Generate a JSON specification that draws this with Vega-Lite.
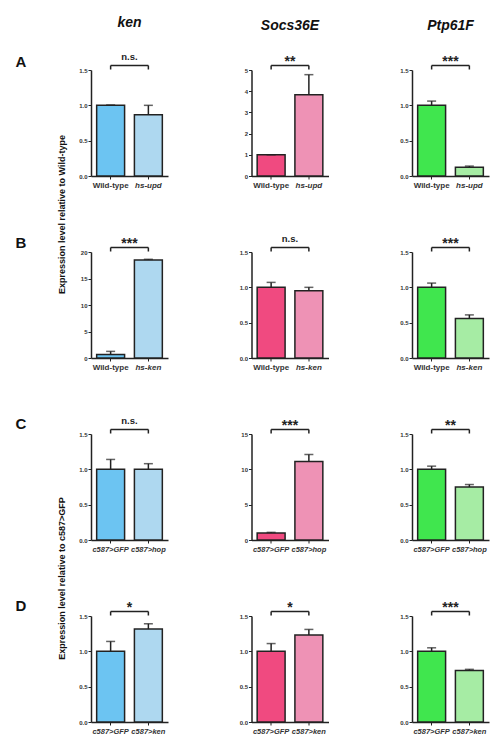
{
"$schema":"https://vega.github.io/schema/vega-lite/v6.json",
"padding":{"left":15,"top":16,"right":5,"bottom":5},
"columns":3,
"spacing":{"row":76,"column":83.5},
"bounds":"flush",
"resolve":{"scale":{"color":"independent"}},
"config":{
 "font":"Liberation Sans",
 "view":{"stroke":null},
 "axis":{"domainColor":"#222","domainWidth":1.5,"tickColor":"#222","tickWidth":1,"labelColor":"#333","labelFont":"Liberation Sans","labelFontWeight":"bold","grid":false,"titleFont":"Liberation Sans","titleColor":"#111","labelOverlap":false},
 "axisX":{"labelAngle":0,"labelFontSize":8,"tickSize":3,"labelPadding":2},
 "axisY":{"labelFontSize":6,"tickSize":3,"labelPadding":1,"labelOverlap":false,"labelFlush":false}
},
"concat":[
{"width":77,"height":106,
 "title":{"text":"ken","fontSize":14,"fontWeight":"bold","fontStyle":"italic","font":"Liberation Sans","anchor":"middle","frame":"group","baseline":"alphabetic","offset":11,"color":"#111"},
 "data":{"values":[{"group":"Wild-type","kind":"control","value":1.0,"upper":1.005,"sig":"n.s."},{"group":"hs-upd","kind":"test","value":0.865,"upper":1.0,"sig":"n.s."}]},
 "layer":[
  {"mark":{"type":"bar","stroke":"#222","strokeWidth":1.5},
   "encoding":{
    "x":{"field":"group","type":"nominal","sort":null,"scale":{"paddingInner":0.26,"paddingOuter":0.15},"axis":{"title":"A","titleX":-76,"titleY":-110,"titleAngle":0,"titleAlign":"left","titleBaseline":"alphabetic","titleFontSize":15,"titleFontWeight":"bold","labelFontStyle":{"condition":{"test":"datum.label == 'Wild-type'","value":"normal"},"value":"italic"}}},
    "y":{"field":"value","type":"quantitative","scale":{"domain":[0,1.5],"nice":false},"axis":{"values":[0,0.5,1,1.5],"format":".1f","labelOverlap":false,"title":"Expression level relative to Wild-type","titleX":-30,"titleY":144,"titleAngle":270,"titleAlign":"center","titleBaseline":"middle","titleFontSize":9,"titleFontWeight":"bold"}},
    "color":{"field":"kind","type":"nominal","scale":{"domain":["control","test"],"range":["#6cc4f2","#aed8f0"]},"legend":null}}},
  {"mark":{"type":"rule","color":"#222","strokeWidth":1.5},"encoding":{"x":{"field":"group","type":"nominal","sort":null},"y":{"field":"value","type":"quantitative","axis":{"values":[0,0.5,1,1.5],"format":".1f","labelOverlap":false,"title":"Expression level relative to Wild-type","titleX":-30,"titleY":144,"titleAngle":270,"titleAlign":"center","titleBaseline":"middle","titleFontSize":9,"titleFontWeight":"bold"}},"y2":{"field":"upper"}}},
  {"mark":{"type":"tick","orient":"horizontal","color":"#222","size":9,"thickness":1.5},"encoding":{"x":{"field":"group","type":"nominal","sort":null},"y":{"field":"upper","type":"quantitative","axis":{"values":[0,0.5,1,1.5],"format":".1f","labelOverlap":false,"title":"Expression level relative to Wild-type","titleX":-30,"titleY":144,"titleAngle":270,"titleAlign":"center","titleBaseline":"middle","titleFontSize":9,"titleFontWeight":"bold"}}}},
  {"mark":{"type":"line","color":"#222","strokeWidth":1.5,"yOffset":-4.5},"encoding":{"x":{"field":"group","type":"nominal","sort":null},"y":{"datum":1.5,"type":"quantitative","axis":{"values":[0,0.5,1,1.5],"format":".1f","labelOverlap":false,"title":"Expression level relative to Wild-type","titleX":-30,"titleY":144,"titleAngle":270,"titleAlign":"center","titleBaseline":"middle","titleFontSize":9,"titleFontWeight":"bold"}}}},
  {"mark":{"type":"rule","color":"#222","strokeWidth":1.5,"yOffset":-4.5,"y2Offset":-0.5},"encoding":{"x":{"field":"group","type":"nominal","sort":null},"y":{"datum":1.5,"type":"quantitative","axis":{"values":[0,0.5,1,1.5],"format":".1f","labelOverlap":false,"title":"Expression level relative to Wild-type","titleX":-30,"titleY":144,"titleAngle":270,"titleAlign":"center","titleBaseline":"middle","titleFontSize":9,"titleFontWeight":"bold"}},"y2":{"datum":1.5}}},
  {"transform":[{"filter":"datum.kind == 'control'"}],"mark":{"type":"text","font":"Liberation Sans","fontSize":9.5,"fontWeight":"bold","color":"#222","baseline":"alphabetic","dy":-10},"encoding":{"text":{"field":"sig"},"y":{"datum":1.5,"type":"quantitative","axis":{"values":[0,0.5,1,1.5],"format":".1f","labelOverlap":false,"title":"Expression level relative to Wild-type","titleX":-30,"titleY":144,"titleAngle":270,"titleAlign":"center","titleBaseline":"middle","titleFontSize":9,"titleFontWeight":"bold"}}}}
 ]},
{"width":77,"height":106,
 "title":{"text":"Socs36E","fontSize":14,"fontWeight":"bold","fontStyle":"italic","font":"Liberation Sans","anchor":"middle","frame":"group","baseline":"alphabetic","offset":11,"color":"#111"},
 "data":{"values":[{"group":"Wild-type","kind":"control","value":1.0,"upper":1.0,"sig":"**"},{"group":"hs-upd","kind":"test","value":3.83,"upper":4.78,"sig":"**"}]},
 "layer":[
  {"mark":{"type":"bar","stroke":"#222","strokeWidth":1.5},
   "encoding":{
    "x":{"field":"group","type":"nominal","sort":null,"scale":{"paddingInner":0.26,"paddingOuter":0.15},"axis":{"title":null,"labelFontStyle":{"condition":{"test":"datum.label == 'Wild-type'","value":"normal"},"value":"italic"}}},
    "y":{"field":"value","type":"quantitative","scale":{"domain":[0,5],"nice":false},"axis":{"values":[0,1,2,3,4,5],"format":"d","labelOverlap":false,"title":null}},
    "color":{"field":"kind","type":"nominal","scale":{"domain":["control","test"],"range":["#f04a80","#ee92b5"]},"legend":null}}},
  {"mark":{"type":"rule","color":"#222","strokeWidth":1.5},"encoding":{"x":{"field":"group","type":"nominal","sort":null},"y":{"field":"value","type":"quantitative","axis":{"values":[0,1,2,3,4,5],"format":"d","labelOverlap":false,"title":null}},"y2":{"field":"upper"}}},
  {"mark":{"type":"tick","orient":"horizontal","color":"#222","size":9,"thickness":1.5},"encoding":{"x":{"field":"group","type":"nominal","sort":null},"y":{"field":"upper","type":"quantitative","axis":{"values":[0,1,2,3,4,5],"format":"d","labelOverlap":false,"title":null}}}},
  {"mark":{"type":"line","color":"#222","strokeWidth":1.5,"yOffset":-4.5},"encoding":{"x":{"field":"group","type":"nominal","sort":null},"y":{"datum":5,"type":"quantitative","axis":{"values":[0,1,2,3,4,5],"format":"d","labelOverlap":false,"title":null}}}},
  {"mark":{"type":"rule","color":"#222","strokeWidth":1.5,"yOffset":-4.5,"y2Offset":-0.5},"encoding":{"x":{"field":"group","type":"nominal","sort":null},"y":{"datum":5,"type":"quantitative","axis":{"values":[0,1,2,3,4,5],"format":"d","labelOverlap":false,"title":null}},"y2":{"datum":5}}},
  {"transform":[{"filter":"datum.kind == 'control'"}],"mark":{"type":"text","font":"Liberation Sans","fontSize":14,"fontWeight":"bold","color":"#222","baseline":"alphabetic","dy":-4},"encoding":{"text":{"field":"sig"},"y":{"datum":5,"type":"quantitative","axis":{"values":[0,1,2,3,4,5],"format":"d","labelOverlap":false,"title":null}}}}
 ]},
{"width":77,"height":106,
 "title":{"text":"Ptp61F","fontSize":14,"fontWeight":"bold","fontStyle":"italic","font":"Liberation Sans","anchor":"middle","frame":"group","baseline":"alphabetic","offset":11,"color":"#111"},
 "data":{"values":[{"group":"Wild-type","kind":"control","value":1.0,"upper":1.06,"sig":"***"},{"group":"hs-upd","kind":"test","value":0.125,"upper":0.14,"sig":"***"}]},
 "layer":[
  {"mark":{"type":"bar","stroke":"#222","strokeWidth":1.5},
   "encoding":{
    "x":{"field":"group","type":"nominal","sort":null,"scale":{"paddingInner":0.26,"paddingOuter":0.15},"axis":{"title":null,"labelFontStyle":{"condition":{"test":"datum.label == 'Wild-type'","value":"normal"},"value":"italic"}}},
    "y":{"field":"value","type":"quantitative","scale":{"domain":[0,1.5],"nice":false},"axis":{"values":[0,0.5,1,1.5],"format":".1f","labelOverlap":false,"title":null}},
    "color":{"field":"kind","type":"nominal","scale":{"domain":["control","test"],"range":["#40e64e","#a6eca4"]},"legend":null}}},
  {"mark":{"type":"rule","color":"#222","strokeWidth":1.5},"encoding":{"x":{"field":"group","type":"nominal","sort":null},"y":{"field":"value","type":"quantitative","axis":{"values":[0,0.5,1,1.5],"format":".1f","labelOverlap":false,"title":null}},"y2":{"field":"upper"}}},
  {"mark":{"type":"tick","orient":"horizontal","color":"#222","size":9,"thickness":1.5},"encoding":{"x":{"field":"group","type":"nominal","sort":null},"y":{"field":"upper","type":"quantitative","axis":{"values":[0,0.5,1,1.5],"format":".1f","labelOverlap":false,"title":null}}}},
  {"mark":{"type":"line","color":"#222","strokeWidth":1.5,"yOffset":-4.5},"encoding":{"x":{"field":"group","type":"nominal","sort":null},"y":{"datum":1.5,"type":"quantitative","axis":{"values":[0,0.5,1,1.5],"format":".1f","labelOverlap":false,"title":null}}}},
  {"mark":{"type":"rule","color":"#222","strokeWidth":1.5,"yOffset":-4.5,"y2Offset":-0.5},"encoding":{"x":{"field":"group","type":"nominal","sort":null},"y":{"datum":1.5,"type":"quantitative","axis":{"values":[0,0.5,1,1.5],"format":".1f","labelOverlap":false,"title":null}},"y2":{"datum":1.5}}},
  {"transform":[{"filter":"datum.kind == 'control'"}],"mark":{"type":"text","font":"Liberation Sans","fontSize":14,"fontWeight":"bold","color":"#222","baseline":"alphabetic","dy":-4},"encoding":{"text":{"field":"sig"},"y":{"datum":1.5,"type":"quantitative","axis":{"values":[0,0.5,1,1.5],"format":".1f","labelOverlap":false,"title":null}}}}
 ]},
{"width":77,"height":106,
 "data":{"values":[{"group":"Wild-type","kind":"control","value":0.65,"upper":1.25,"sig":"***"},{"group":"hs-ken","kind":"test","value":18.5,"upper":18.62,"sig":"***"}]},
 "layer":[
  {"mark":{"type":"bar","stroke":"#222","strokeWidth":1.5},
   "encoding":{
    "x":{"field":"group","type":"nominal","sort":null,"scale":{"paddingInner":0.26,"paddingOuter":0.15},"axis":{"title":"B","titleX":-76,"titleY":-111,"titleAngle":0,"titleAlign":"left","titleBaseline":"alphabetic","titleFontSize":15,"titleFontWeight":"bold","labelFontStyle":{"condition":{"test":"datum.label == 'Wild-type'","value":"normal"},"value":"italic"}}},
    "y":{"field":"value","type":"quantitative","scale":{"domain":[0,20],"nice":false},"axis":{"values":[0,5,10,15,20],"format":"d","labelOverlap":false,"title":null}},
    "color":{"field":"kind","type":"nominal","scale":{"domain":["control","test"],"range":["#6cc4f2","#aed8f0"]},"legend":null}}},
  {"mark":{"type":"rule","color":"#222","strokeWidth":1.5},"encoding":{"x":{"field":"group","type":"nominal","sort":null},"y":{"field":"value","type":"quantitative","axis":{"values":[0,5,10,15,20],"format":"d","labelOverlap":false,"title":null}},"y2":{"field":"upper"}}},
  {"mark":{"type":"tick","orient":"horizontal","color":"#222","size":9,"thickness":1.5},"encoding":{"x":{"field":"group","type":"nominal","sort":null},"y":{"field":"upper","type":"quantitative","axis":{"values":[0,5,10,15,20],"format":"d","labelOverlap":false,"title":null}}}},
  {"mark":{"type":"line","color":"#222","strokeWidth":1.5,"yOffset":-4.5},"encoding":{"x":{"field":"group","type":"nominal","sort":null},"y":{"datum":20,"type":"quantitative","axis":{"values":[0,5,10,15,20],"format":"d","labelOverlap":false,"title":null}}}},
  {"mark":{"type":"rule","color":"#222","strokeWidth":1.5,"yOffset":-4.5,"y2Offset":-0.5},"encoding":{"x":{"field":"group","type":"nominal","sort":null},"y":{"datum":20,"type":"quantitative","axis":{"values":[0,5,10,15,20],"format":"d","labelOverlap":false,"title":null}},"y2":{"datum":20}}},
  {"transform":[{"filter":"datum.kind == 'control'"}],"mark":{"type":"text","font":"Liberation Sans","fontSize":14,"fontWeight":"bold","color":"#222","baseline":"alphabetic","dy":-4},"encoding":{"text":{"field":"sig"},"y":{"datum":20,"type":"quantitative","axis":{"values":[0,5,10,15,20],"format":"d","labelOverlap":false,"title":null}}}}
 ]},
{"width":77,"height":106,
 "data":{"values":[{"group":"Wild-type","kind":"control","value":1.0,"upper":1.07,"sig":"n.s."},{"group":"hs-ken","kind":"test","value":0.95,"upper":1.0,"sig":"n.s."}]},
 "layer":[
  {"mark":{"type":"bar","stroke":"#222","strokeWidth":1.5},
   "encoding":{
    "x":{"field":"group","type":"nominal","sort":null,"scale":{"paddingInner":0.26,"paddingOuter":0.15},"axis":{"title":null,"labelFontStyle":{"condition":{"test":"datum.label == 'Wild-type'","value":"normal"},"value":"italic"}}},
    "y":{"field":"value","type":"quantitative","scale":{"domain":[0,1.5],"nice":false},"axis":{"values":[0,0.5,1,1.5],"format":".1f","labelOverlap":false,"title":null}},
    "color":{"field":"kind","type":"nominal","scale":{"domain":["control","test"],"range":["#f04a80","#ee92b5"]},"legend":null}}},
  {"mark":{"type":"rule","color":"#222","strokeWidth":1.5},"encoding":{"x":{"field":"group","type":"nominal","sort":null},"y":{"field":"value","type":"quantitative","axis":{"values":[0,0.5,1,1.5],"format":".1f","labelOverlap":false,"title":null}},"y2":{"field":"upper"}}},
  {"mark":{"type":"tick","orient":"horizontal","color":"#222","size":9,"thickness":1.5},"encoding":{"x":{"field":"group","type":"nominal","sort":null},"y":{"field":"upper","type":"quantitative","axis":{"values":[0,0.5,1,1.5],"format":".1f","labelOverlap":false,"title":null}}}},
  {"mark":{"type":"line","color":"#222","strokeWidth":1.5,"yOffset":-4.5},"encoding":{"x":{"field":"group","type":"nominal","sort":null},"y":{"datum":1.5,"type":"quantitative","axis":{"values":[0,0.5,1,1.5],"format":".1f","labelOverlap":false,"title":null}}}},
  {"mark":{"type":"rule","color":"#222","strokeWidth":1.5,"yOffset":-4.5,"y2Offset":-0.5},"encoding":{"x":{"field":"group","type":"nominal","sort":null},"y":{"datum":1.5,"type":"quantitative","axis":{"values":[0,0.5,1,1.5],"format":".1f","labelOverlap":false,"title":null}},"y2":{"datum":1.5}}},
  {"transform":[{"filter":"datum.kind == 'control'"}],"mark":{"type":"text","font":"Liberation Sans","fontSize":9.5,"fontWeight":"bold","color":"#222","baseline":"alphabetic","dy":-10},"encoding":{"text":{"field":"sig"},"y":{"datum":1.5,"type":"quantitative","axis":{"values":[0,0.5,1,1.5],"format":".1f","labelOverlap":false,"title":null}}}}
 ]},
{"width":77,"height":106,
 "data":{"values":[{"group":"Wild-type","kind":"control","value":1.0,"upper":1.06,"sig":"***"},{"group":"hs-ken","kind":"test","value":0.56,"upper":0.61,"sig":"***"}]},
 "layer":[
  {"mark":{"type":"bar","stroke":"#222","strokeWidth":1.5},
   "encoding":{
    "x":{"field":"group","type":"nominal","sort":null,"scale":{"paddingInner":0.26,"paddingOuter":0.15},"axis":{"title":null,"labelFontStyle":{"condition":{"test":"datum.label == 'Wild-type'","value":"normal"},"value":"italic"}}},
    "y":{"field":"value","type":"quantitative","scale":{"domain":[0,1.5],"nice":false},"axis":{"values":[0,0.5,1,1.5],"format":".1f","labelOverlap":false,"title":null}},
    "color":{"field":"kind","type":"nominal","scale":{"domain":["control","test"],"range":["#40e64e","#a6eca4"]},"legend":null}}},
  {"mark":{"type":"rule","color":"#222","strokeWidth":1.5},"encoding":{"x":{"field":"group","type":"nominal","sort":null},"y":{"field":"value","type":"quantitative","axis":{"values":[0,0.5,1,1.5],"format":".1f","labelOverlap":false,"title":null}},"y2":{"field":"upper"}}},
  {"mark":{"type":"tick","orient":"horizontal","color":"#222","size":9,"thickness":1.5},"encoding":{"x":{"field":"group","type":"nominal","sort":null},"y":{"field":"upper","type":"quantitative","axis":{"values":[0,0.5,1,1.5],"format":".1f","labelOverlap":false,"title":null}}}},
  {"mark":{"type":"line","color":"#222","strokeWidth":1.5,"yOffset":-4.5},"encoding":{"x":{"field":"group","type":"nominal","sort":null},"y":{"datum":1.5,"type":"quantitative","axis":{"values":[0,0.5,1,1.5],"format":".1f","labelOverlap":false,"title":null}}}},
  {"mark":{"type":"rule","color":"#222","strokeWidth":1.5,"yOffset":-4.5,"y2Offset":-0.5},"encoding":{"x":{"field":"group","type":"nominal","sort":null},"y":{"datum":1.5,"type":"quantitative","axis":{"values":[0,0.5,1,1.5],"format":".1f","labelOverlap":false,"title":null}},"y2":{"datum":1.5}}},
  {"transform":[{"filter":"datum.kind == 'control'"}],"mark":{"type":"text","font":"Liberation Sans","fontSize":14,"fontWeight":"bold","color":"#222","baseline":"alphabetic","dy":-4},"encoding":{"text":{"field":"sig"},"y":{"datum":1.5,"type":"quantitative","axis":{"values":[0,0.5,1,1.5],"format":".1f","labelOverlap":false,"title":null}}}}
 ]},
{"width":77,"height":106,
 "data":{"values":[{"group":"c587>GFP","kind":"control","value":1.0,"upper":1.14,"sig":"n.s."},{"group":"c587>hop","kind":"test","value":1.0,"upper":1.08,"sig":"n.s."}]},
 "layer":[
  {"mark":{"type":"bar","stroke":"#222","strokeWidth":1.5},
   "encoding":{
    "x":{"field":"group","type":"nominal","sort":null,"scale":{"paddingInner":0.26,"paddingOuter":0.15},"axis":{"title":"C","titleX":-76,"titleY":-112,"titleAngle":0,"titleAlign":"left","titleBaseline":"alphabetic","titleFontSize":15,"titleFontWeight":"bold","labelFontStyle":"italic","labelFontSize":7.5}},
    "y":{"field":"value","type":"quantitative","scale":{"domain":[0,1.5],"nice":false},"axis":{"values":[0,0.5,1,1.5],"format":".1f","labelOverlap":false,"title":"Expression level relative to c587>GFP","titleX":-30,"titleY":144,"titleAngle":270,"titleAlign":"center","titleBaseline":"middle","titleFontSize":9,"titleFontWeight":"bold"}},
    "color":{"field":"kind","type":"nominal","scale":{"domain":["control","test"],"range":["#6cc4f2","#aed8f0"]},"legend":null}}},
  {"mark":{"type":"rule","color":"#222","strokeWidth":1.5},"encoding":{"x":{"field":"group","type":"nominal","sort":null},"y":{"field":"value","type":"quantitative","axis":{"values":[0,0.5,1,1.5],"format":".1f","labelOverlap":false,"title":"Expression level relative to c587>GFP","titleX":-30,"titleY":144,"titleAngle":270,"titleAlign":"center","titleBaseline":"middle","titleFontSize":9,"titleFontWeight":"bold"}},"y2":{"field":"upper"}}},
  {"mark":{"type":"tick","orient":"horizontal","color":"#222","size":9,"thickness":1.5},"encoding":{"x":{"field":"group","type":"nominal","sort":null},"y":{"field":"upper","type":"quantitative","axis":{"values":[0,0.5,1,1.5],"format":".1f","labelOverlap":false,"title":"Expression level relative to c587>GFP","titleX":-30,"titleY":144,"titleAngle":270,"titleAlign":"center","titleBaseline":"middle","titleFontSize":9,"titleFontWeight":"bold"}}}},
  {"mark":{"type":"line","color":"#222","strokeWidth":1.5,"yOffset":-4.5},"encoding":{"x":{"field":"group","type":"nominal","sort":null},"y":{"datum":1.5,"type":"quantitative","axis":{"values":[0,0.5,1,1.5],"format":".1f","labelOverlap":false,"title":"Expression level relative to c587>GFP","titleX":-30,"titleY":144,"titleAngle":270,"titleAlign":"center","titleBaseline":"middle","titleFontSize":9,"titleFontWeight":"bold"}}}},
  {"mark":{"type":"rule","color":"#222","strokeWidth":1.5,"yOffset":-4.5,"y2Offset":-0.5},"encoding":{"x":{"field":"group","type":"nominal","sort":null},"y":{"datum":1.5,"type":"quantitative","axis":{"values":[0,0.5,1,1.5],"format":".1f","labelOverlap":false,"title":"Expression level relative to c587>GFP","titleX":-30,"titleY":144,"titleAngle":270,"titleAlign":"center","titleBaseline":"middle","titleFontSize":9,"titleFontWeight":"bold"}},"y2":{"datum":1.5}}},
  {"transform":[{"filter":"datum.kind == 'control'"}],"mark":{"type":"text","font":"Liberation Sans","fontSize":9.5,"fontWeight":"bold","color":"#222","baseline":"alphabetic","dy":-10},"encoding":{"text":{"field":"sig"},"y":{"datum":1.5,"type":"quantitative","axis":{"values":[0,0.5,1,1.5],"format":".1f","labelOverlap":false,"title":"Expression level relative to c587>GFP","titleX":-30,"titleY":144,"titleAngle":270,"titleAlign":"center","titleBaseline":"middle","titleFontSize":9,"titleFontWeight":"bold"}}}}
 ]},
{"width":77,"height":106,
 "data":{"values":[{"group":"c587>GFP","kind":"control","value":1.0,"upper":1.08,"sig":"***"},{"group":"c587>hop","kind":"test","value":11.1,"upper":12.1,"sig":"***"}]},
 "layer":[
  {"mark":{"type":"bar","stroke":"#222","strokeWidth":1.5},
   "encoding":{
    "x":{"field":"group","type":"nominal","sort":null,"scale":{"paddingInner":0.26,"paddingOuter":0.15},"axis":{"title":null,"labelFontStyle":"italic","labelFontSize":7.5}},
    "y":{"field":"value","type":"quantitative","scale":{"domain":[0,15],"nice":false},"axis":{"values":[0,5,10,15],"format":"d","labelOverlap":false,"title":null}},
    "color":{"field":"kind","type":"nominal","scale":{"domain":["control","test"],"range":["#f04a80","#ee92b5"]},"legend":null}}},
  {"mark":{"type":"rule","color":"#222","strokeWidth":1.5},"encoding":{"x":{"field":"group","type":"nominal","sort":null},"y":{"field":"value","type":"quantitative","axis":{"values":[0,5,10,15],"format":"d","labelOverlap":false,"title":null}},"y2":{"field":"upper"}}},
  {"mark":{"type":"tick","orient":"horizontal","color":"#222","size":9,"thickness":1.5},"encoding":{"x":{"field":"group","type":"nominal","sort":null},"y":{"field":"upper","type":"quantitative","axis":{"values":[0,5,10,15],"format":"d","labelOverlap":false,"title":null}}}},
  {"mark":{"type":"line","color":"#222","strokeWidth":1.5,"yOffset":-4.5},"encoding":{"x":{"field":"group","type":"nominal","sort":null},"y":{"datum":15,"type":"quantitative","axis":{"values":[0,5,10,15],"format":"d","labelOverlap":false,"title":null}}}},
  {"mark":{"type":"rule","color":"#222","strokeWidth":1.5,"yOffset":-4.5,"y2Offset":-0.5},"encoding":{"x":{"field":"group","type":"nominal","sort":null},"y":{"datum":15,"type":"quantitative","axis":{"values":[0,5,10,15],"format":"d","labelOverlap":false,"title":null}},"y2":{"datum":15}}},
  {"transform":[{"filter":"datum.kind == 'control'"}],"mark":{"type":"text","font":"Liberation Sans","fontSize":14,"fontWeight":"bold","color":"#222","baseline":"alphabetic","dy":-4},"encoding":{"text":{"field":"sig"},"y":{"datum":15,"type":"quantitative","axis":{"values":[0,5,10,15],"format":"d","labelOverlap":false,"title":null}}}}
 ]},
{"width":77,"height":106,
 "data":{"values":[{"group":"c587>GFP","kind":"control","value":1.0,"upper":1.045,"sig":"**"},{"group":"c587>hop","kind":"test","value":0.75,"upper":0.785,"sig":"**"}]},
 "layer":[
  {"mark":{"type":"bar","stroke":"#222","strokeWidth":1.5},
   "encoding":{
    "x":{"field":"group","type":"nominal","sort":null,"scale":{"paddingInner":0.26,"paddingOuter":0.15},"axis":{"title":null,"labelFontStyle":"italic","labelFontSize":7.5}},
    "y":{"field":"value","type":"quantitative","scale":{"domain":[0,1.5],"nice":false},"axis":{"values":[0,0.5,1,1.5],"format":".1f","labelOverlap":false,"title":null}},
    "color":{"field":"kind","type":"nominal","scale":{"domain":["control","test"],"range":["#40e64e","#a6eca4"]},"legend":null}}},
  {"mark":{"type":"rule","color":"#222","strokeWidth":1.5},"encoding":{"x":{"field":"group","type":"nominal","sort":null},"y":{"field":"value","type":"quantitative","axis":{"values":[0,0.5,1,1.5],"format":".1f","labelOverlap":false,"title":null}},"y2":{"field":"upper"}}},
  {"mark":{"type":"tick","orient":"horizontal","color":"#222","size":9,"thickness":1.5},"encoding":{"x":{"field":"group","type":"nominal","sort":null},"y":{"field":"upper","type":"quantitative","axis":{"values":[0,0.5,1,1.5],"format":".1f","labelOverlap":false,"title":null}}}},
  {"mark":{"type":"line","color":"#222","strokeWidth":1.5,"yOffset":-4.5},"encoding":{"x":{"field":"group","type":"nominal","sort":null},"y":{"datum":1.5,"type":"quantitative","axis":{"values":[0,0.5,1,1.5],"format":".1f","labelOverlap":false,"title":null}}}},
  {"mark":{"type":"rule","color":"#222","strokeWidth":1.5,"yOffset":-4.5,"y2Offset":-0.5},"encoding":{"x":{"field":"group","type":"nominal","sort":null},"y":{"datum":1.5,"type":"quantitative","axis":{"values":[0,0.5,1,1.5],"format":".1f","labelOverlap":false,"title":null}},"y2":{"datum":1.5}}},
  {"transform":[{"filter":"datum.kind == 'control'"}],"mark":{"type":"text","font":"Liberation Sans","fontSize":14,"fontWeight":"bold","color":"#222","baseline":"alphabetic","dy":-4},"encoding":{"text":{"field":"sig"},"y":{"datum":1.5,"type":"quantitative","axis":{"values":[0,0.5,1,1.5],"format":".1f","labelOverlap":false,"title":null}}}}
 ]},
{"width":77,"height":106,
 "data":{"values":[{"group":"c587>GFP","kind":"control","value":1.0,"upper":1.14,"sig":"*"},{"group":"c587>ken","kind":"test","value":1.315,"upper":1.39,"sig":"*"}]},
 "layer":[
  {"mark":{"type":"bar","stroke":"#222","strokeWidth":1.5},
   "encoding":{
    "x":{"field":"group","type":"nominal","sort":null,"scale":{"paddingInner":0.26,"paddingOuter":0.15},"axis":{"title":"D","titleX":-76,"titleY":-112,"titleAngle":0,"titleAlign":"left","titleBaseline":"alphabetic","titleFontSize":15,"titleFontWeight":"bold","labelFontStyle":"italic","labelFontSize":7.5}},
    "y":{"field":"value","type":"quantitative","scale":{"domain":[0,1.5],"nice":false},"axis":{"values":[0,0.5,1,1.5],"format":".1f","labelOverlap":false,"title":null}},
    "color":{"field":"kind","type":"nominal","scale":{"domain":["control","test"],"range":["#6cc4f2","#aed8f0"]},"legend":null}}},
  {"mark":{"type":"rule","color":"#222","strokeWidth":1.5},"encoding":{"x":{"field":"group","type":"nominal","sort":null},"y":{"field":"value","type":"quantitative","axis":{"values":[0,0.5,1,1.5],"format":".1f","labelOverlap":false,"title":null}},"y2":{"field":"upper"}}},
  {"mark":{"type":"tick","orient":"horizontal","color":"#222","size":9,"thickness":1.5},"encoding":{"x":{"field":"group","type":"nominal","sort":null},"y":{"field":"upper","type":"quantitative","axis":{"values":[0,0.5,1,1.5],"format":".1f","labelOverlap":false,"title":null}}}},
  {"mark":{"type":"line","color":"#222","strokeWidth":1.5,"yOffset":-4.5},"encoding":{"x":{"field":"group","type":"nominal","sort":null},"y":{"datum":1.5,"type":"quantitative","axis":{"values":[0,0.5,1,1.5],"format":".1f","labelOverlap":false,"title":null}}}},
  {"mark":{"type":"rule","color":"#222","strokeWidth":1.5,"yOffset":-4.5,"y2Offset":-0.5},"encoding":{"x":{"field":"group","type":"nominal","sort":null},"y":{"datum":1.5,"type":"quantitative","axis":{"values":[0,0.5,1,1.5],"format":".1f","labelOverlap":false,"title":null}},"y2":{"datum":1.5}}},
  {"transform":[{"filter":"datum.kind == 'control'"}],"mark":{"type":"text","font":"Liberation Sans","fontSize":14,"fontWeight":"bold","color":"#222","baseline":"alphabetic","dy":-4},"encoding":{"text":{"field":"sig"},"y":{"datum":1.5,"type":"quantitative","axis":{"values":[0,0.5,1,1.5],"format":".1f","labelOverlap":false,"title":null}}}}
 ]},
{"width":77,"height":106,
 "data":{"values":[{"group":"c587>GFP","kind":"control","value":1.0,"upper":1.11,"sig":"*"},{"group":"c587>ken","kind":"test","value":1.23,"upper":1.31,"sig":"*"}]},
 "layer":[
  {"mark":{"type":"bar","stroke":"#222","strokeWidth":1.5},
   "encoding":{
    "x":{"field":"group","type":"nominal","sort":null,"scale":{"paddingInner":0.26,"paddingOuter":0.15},"axis":{"title":null,"labelFontStyle":"italic","labelFontSize":7.5}},
    "y":{"field":"value","type":"quantitative","scale":{"domain":[0,1.5],"nice":false},"axis":{"values":[0,0.5,1,1.5],"format":".1f","labelOverlap":false,"title":null}},
    "color":{"field":"kind","type":"nominal","scale":{"domain":["control","test"],"range":["#f04a80","#ee92b5"]},"legend":null}}},
  {"mark":{"type":"rule","color":"#222","strokeWidth":1.5},"encoding":{"x":{"field":"group","type":"nominal","sort":null},"y":{"field":"value","type":"quantitative","axis":{"values":[0,0.5,1,1.5],"format":".1f","labelOverlap":false,"title":null}},"y2":{"field":"upper"}}},
  {"mark":{"type":"tick","orient":"horizontal","color":"#222","size":9,"thickness":1.5},"encoding":{"x":{"field":"group","type":"nominal","sort":null},"y":{"field":"upper","type":"quantitative","axis":{"values":[0,0.5,1,1.5],"format":".1f","labelOverlap":false,"title":null}}}},
  {"mark":{"type":"line","color":"#222","strokeWidth":1.5,"yOffset":-4.5},"encoding":{"x":{"field":"group","type":"nominal","sort":null},"y":{"datum":1.5,"type":"quantitative","axis":{"values":[0,0.5,1,1.5],"format":".1f","labelOverlap":false,"title":null}}}},
  {"mark":{"type":"rule","color":"#222","strokeWidth":1.5,"yOffset":-4.5,"y2Offset":-0.5},"encoding":{"x":{"field":"group","type":"nominal","sort":null},"y":{"datum":1.5,"type":"quantitative","axis":{"values":[0,0.5,1,1.5],"format":".1f","labelOverlap":false,"title":null}},"y2":{"datum":1.5}}},
  {"transform":[{"filter":"datum.kind == 'control'"}],"mark":{"type":"text","font":"Liberation Sans","fontSize":14,"fontWeight":"bold","color":"#222","baseline":"alphabetic","dy":-4},"encoding":{"text":{"field":"sig"},"y":{"datum":1.5,"type":"quantitative","axis":{"values":[0,0.5,1,1.5],"format":".1f","labelOverlap":false,"title":null}}}}
 ]},
{"width":77,"height":106,
 "data":{"values":[{"group":"c587>GFP","kind":"control","value":1.0,"upper":1.05,"sig":"***"},{"group":"c587>ken","kind":"test","value":0.73,"upper":0.745,"sig":"***"}]},
 "layer":[
  {"mark":{"type":"bar","stroke":"#222","strokeWidth":1.5},
   "encoding":{
    "x":{"field":"group","type":"nominal","sort":null,"scale":{"paddingInner":0.26,"paddingOuter":0.15},"axis":{"title":null,"labelFontStyle":"italic","labelFontSize":7.5}},
    "y":{"field":"value","type":"quantitative","scale":{"domain":[0,1.5],"nice":false},"axis":{"values":[0,0.5,1,1.5],"format":".1f","labelOverlap":false,"title":null}},
    "color":{"field":"kind","type":"nominal","scale":{"domain":["control","test"],"range":["#40e64e","#a6eca4"]},"legend":null}}},
  {"mark":{"type":"rule","color":"#222","strokeWidth":1.5},"encoding":{"x":{"field":"group","type":"nominal","sort":null},"y":{"field":"value","type":"quantitative","axis":{"values":[0,0.5,1,1.5],"format":".1f","labelOverlap":false,"title":null}},"y2":{"field":"upper"}}},
  {"mark":{"type":"tick","orient":"horizontal","color":"#222","size":9,"thickness":1.5},"encoding":{"x":{"field":"group","type":"nominal","sort":null},"y":{"field":"upper","type":"quantitative","axis":{"values":[0,0.5,1,1.5],"format":".1f","labelOverlap":false,"title":null}}}},
  {"mark":{"type":"line","color":"#222","strokeWidth":1.5,"yOffset":-4.5},"encoding":{"x":{"field":"group","type":"nominal","sort":null},"y":{"datum":1.5,"type":"quantitative","axis":{"values":[0,0.5,1,1.5],"format":".1f","labelOverlap":false,"title":null}}}},
  {"mark":{"type":"rule","color":"#222","strokeWidth":1.5,"yOffset":-4.5,"y2Offset":-0.5},"encoding":{"x":{"field":"group","type":"nominal","sort":null},"y":{"datum":1.5,"type":"quantitative","axis":{"values":[0,0.5,1,1.5],"format":".1f","labelOverlap":false,"title":null}},"y2":{"datum":1.5}}},
  {"transform":[{"filter":"datum.kind == 'control'"}],"mark":{"type":"text","font":"Liberation Sans","fontSize":14,"fontWeight":"bold","color":"#222","baseline":"alphabetic","dy":-4},"encoding":{"text":{"field":"sig"},"y":{"datum":1.5,"type":"quantitative","axis":{"values":[0,0.5,1,1.5],"format":".1f","labelOverlap":false,"title":null}}}}
 ]}
]
}
